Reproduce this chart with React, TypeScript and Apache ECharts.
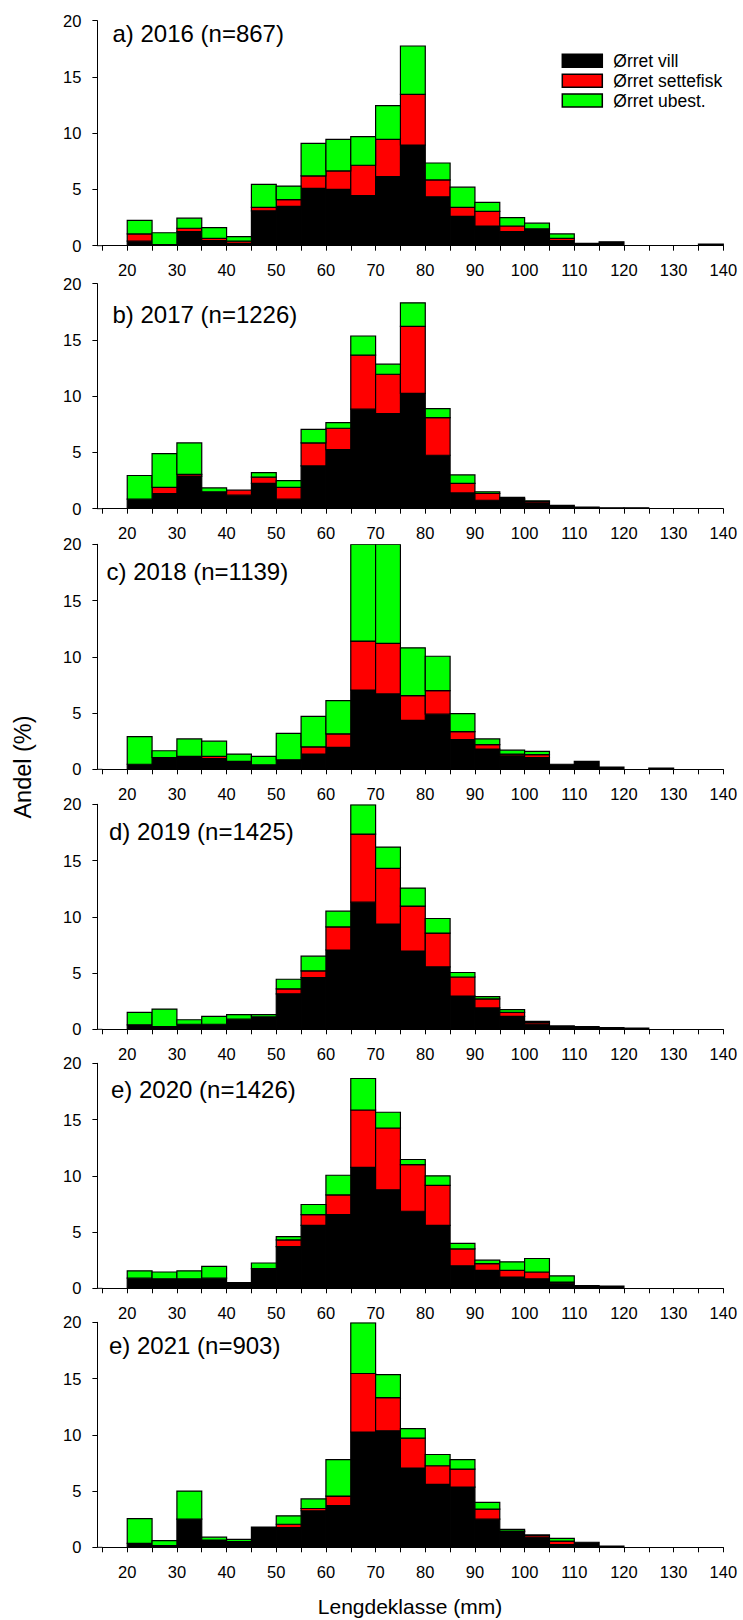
import React, { useEffect, useRef } from "react";
import * as echarts from "echarts";

// Length classes (lower bound, mm); every class is 5 mm wide
const binStarts = [20, 25, 30, 35, 40, 45, 50, 55, 60, 65, 70, 75, 80, 85, 90, 95, 100, 105, 110, 115, 120, 125, 130, 135];
const binWidth = 5;

const seriesNames = ["Ørret vill", "Ørret settefisk", "Ørret ubest."];
const seriesColors = ["#000000", "#ff0000", "#00ff00"];

const panelTitles = [
  "a) 2016 (n=867)",
  "b) 2017 (n=1226)",
  "c) 2018 (n=1139)",
  "d) 2019 (n=1425)",
  "e) 2020 (n=1426)",
  "e) 2021 (n=903)",
];

// Share (%) per length class
const vill2016 = [0.4, 0.1, 1.25, 0.45, 0.2, 3.1, 3.5, 5.1, 5.0, 4.45, 6.15, 8.95, 4.35, 2.6, 1.75, 1.25, 1.45, 0.45, 0.2, 0.35, 0, 0, 0, 0.15];
const sette2016 = [0.65, 0, 0.3, 0.2, 0.2, 0.3, 0.6, 1.1, 1.65, 2.7, 3.3, 4.5, 1.5, 0.8, 1.3, 0.5, 0.05, 0.2, 0, 0, 0, 0, 0, 0];
const ubest2016 = [1.2, 1.05, 0.9, 0.95, 0.4, 2.05, 1.2, 2.9, 2.8, 2.55, 3.0, 4.3, 1.5, 1.8, 0.8, 0.75, 0.5, 0.4, 0, 0, 0, 0, 0, 0];

const vill2017 = [0.85, 1.35, 2.9, 1.4, 1.2, 2.25, 0.85, 3.8, 5.25, 8.85, 8.45, 10.25, 4.75, 1.4, 0.75, 0.8, 0.45, 0.2, 0.15, 0.08, 0.08, 0, 0, 0];
const sette2017 = [0, 0.55, 0.15, 0.1, 0.45, 0.55, 1.05, 2.05, 1.9, 4.8, 3.5, 5.95, 3.35, 0.85, 0.6, 0.1, 0.15, 0.1, 0, 0, 0, 0, 0, 0];
const ubest2017 = [2.1, 3.0, 2.8, 0.35, 0, 0.4, 0.6, 1.2, 0.5, 1.7, 0.9, 2.1, 0.8, 0.75, 0.15, 0.1, 0.1, 0, 0, 0, 0, 0, 0, 0];

const vill2018 = [0.45, 1.05, 1.15, 0.95, 0.7, 0.4, 0.85, 1.35, 1.95, 7.05, 6.7, 4.35, 4.9, 2.65, 1.8, 1.2, 1.05, 0.45, 0.7, 0.2, 0, 0.1, 0, 0];
const sette2018 = [0, 0, 0, 0.2, 0, 0, 0, 0.65, 1.2, 4.35, 4.5, 2.2, 2.1, 0.7, 0.4, 0.15, 0.25, 0, 0, 0, 0, 0, 0, 0];
const ubest2018 = [2.45, 0.6, 1.55, 1.35, 0.65, 0.75, 2.35, 2.7, 2.95, 8.6, 8.8, 4.25, 3.05, 1.6, 0.5, 0.35, 0.3, 0, 0, 0, 0, 0, 0, 0];

const vill2019 = [0.4, 0.25, 0.45, 0.45, 0.9, 1.1, 3.15, 4.6, 7.05, 11.3, 9.35, 6.95, 5.55, 2.95, 1.9, 1.15, 0.45, 0.3, 0.25, 0.15, 0.1, 0, 0, 0];
const sette2019 = [0, 0, 0, 0, 0, 0, 0.45, 0.6, 2.05, 6.05, 4.95, 4.0, 3.0, 1.7, 0.8, 0.35, 0.15, 0, 0, 0, 0, 0, 0, 0];
const ubest2019 = [1.1, 1.55, 0.4, 0.7, 0.4, 0.2, 0.85, 1.3, 1.4, 2.6, 1.9, 1.6, 1.3, 0.4, 0.2, 0.25, 0.1, 0, 0, 0, 0, 0, 0, 0];

const vill2020 = [0.9, 0.85, 0.85, 0.9, 0.5, 1.75, 3.7, 5.6, 6.55, 10.75, 8.75, 6.85, 5.6, 2.0, 1.6, 1.0, 0.85, 0.45, 0.25, 0.2, 0, 0, 0, 0];
const sette2020 = [0, 0, 0, 0, 0, 0, 0.6, 0.95, 1.75, 5.1, 5.5, 4.15, 3.55, 1.5, 0.6, 0.6, 0.6, 0.1, 0, 0, 0, 0, 0, 0];
const ubest2020 = [0.65, 0.6, 0.7, 1.05, 0, 0.5, 0.3, 0.9, 1.75, 2.8, 1.4, 0.45, 0.85, 0.5, 0.3, 0.75, 1.2, 0.55, 0, 0, 0, 0, 0, 0];

const vill2021 = [0.35, 0.15, 2.5, 0.65, 0.5, 1.8, 1.75, 3.25, 3.7, 10.25, 10.35, 7.05, 5.6, 5.35, 2.5, 1.4, 0.9, 0.25, 0.45, 0.1, 0, 0, 0, 0];
const sette2021 = [0, 0, 0, 0, 0, 0, 0.3, 0.2, 0.85, 5.2, 2.95, 2.65, 1.65, 1.6, 0.9, 0.05, 0.15, 0.3, 0, 0, 0, 0, 0, 0];
const ubest2021 = [2.2, 0.45, 2.5, 0.25, 0.2, 0, 0.75, 0.85, 3.25, 4.5, 2.05, 0.85, 1.0, 0.85, 0.6, 0.15, 0.05, 0.25, 0, 0, 0, 0, 0, 0];

const panels = [
  [vill2016, sette2016, ubest2016],
  [vill2017, sette2017, ubest2017],
  [vill2018, sette2018, ubest2018],
  [vill2019, sette2019, ubest2019],
  [vill2020, sette2020, ubest2020],
  [vill2021, sette2021, ubest2021],
];

const xTickValues = { min: 15, max: 140, interval: 5 };
const yTickValues = { min: 0, max: 20, interval: 5 };

// Layout
const W = 743;
const H = 1620;
const FONT = "'Liberation Sans', Arial, sans-serif";
const gridLeft = 102.4;
const gridWidth = 620.9;
const gridHeight = 225;
const yAxisOffset = 5;
const gridTops = [20.7, 283.7, 544.3, 804.3, 1063.3, 1322.3];
const titleX = [112.5, 112.5, 106.5, 109, 111, 109];
const titleY = [33.3, 314.7, 571, 831, 1089, 1345];
const legendBoxX = 562.3;
const legendBoxY = [54.3, 74.2, 94];
const legendTextX = 613.3;

function textEl(text: string, x: number, y: number, size: number, align: string, extra: any = {}) {
  return {
    type: "text",
    x,
    y,
    ...extra,
    style: {
      text,
      fill: "#000",
      fontSize: size,
      fontFamily: FONT,
      align,
      verticalAlign: "middle",
      textAlign: align,
      textVerticalAlign: "middle",
    },
  };
}

function buildOption() {
  const grid: any[] = [];
  const xAxis: any[] = [];
  const yAxis: any[] = [];
  const series: any[] = [];
  const graphic: any[] = [];

  panels.forEach((groups, p) => {
    grid.push({ left: gridLeft, top: gridTops[p], width: gridWidth, height: gridHeight });
    xAxis.push({
      type: "value",
      gridIndex: p,
      ...xTickValues,
      axisLine: { show: true, onZero: false, lineStyle: { color: "#000", width: 1 } },
      axisTick: { show: true, inside: false, length: 5, lineStyle: { color: "#000", width: 1 } },
      axisLabel: {
        margin: 16,
        fontSize: 16.5,
        fontFamily: FONT,
        color: "#000",
        showMinLabel: true,
        showMaxLabel: true,
        formatter: (v: number) => (v % 10 === 0 ? String(v) : ""),
      },
      splitLine: { show: false },
    });
    yAxis.push({
      type: "value",
      gridIndex: p,
      ...yTickValues,
      offset: yAxisOffset,
      axisLine: { show: true, lineStyle: { color: "#000", width: 1 } },
      axisTick: { show: true, inside: false, length: 5, lineStyle: { color: "#000", width: 1 } },
      axisLabel: { margin: 16, fontSize: 16.5, fontFamily: FONT, color: "#000" },
      splitLine: { show: false },
    });

    // join the offset y axis to the baseline
    const baseY = gridTops[p] + gridHeight;
    graphic.push({
      type: "line",
      shape: { x1: gridLeft - yAxisOffset, y1: baseY, x2: gridLeft, y2: baseY },
      style: { stroke: "#000", lineWidth: 1 },
    });

    // Stack the three groups: each data item is [classStart, lower, upper]
    const cumulative = binStarts.map(() => 0);
    groups.forEach((vals, k) => {
      const data = binStarts.map((x0, i) => {
        const lo = cumulative[i];
        const hi = lo + vals[i];
        cumulative[i] = hi;
        return [x0, lo, hi];
      });
      series.push({
        type: "custom",
        name: seriesNames[k],
        xAxisIndex: p,
        yAxisIndex: p,
        clip: true,
        encode: { x: 0, y: [1, 2] },
        itemStyle: { color: seriesColors[k], borderColor: "#000", borderWidth: 1.2 },
        data,
        renderItem: (params: any, api: any) => {
          const x0 = api.value(0);
          const lo = api.value(1);
          const hi = api.value(2);
          if (!(hi - lo > 0)) return null;
          const a = api.coord([x0, hi]);
          const b = api.coord([x0 + binWidth, lo]);
          return {
            type: "rect",
            shape: { x: a[0], y: a[1], width: b[0] - a[0], height: b[1] - a[1] },
            style: { fill: seriesColors[k], stroke: "#000", lineWidth: 1.2 },
          };
        },
      });
    });
  });

  panelTitles.forEach((t, p) => graphic.push(textEl(t, titleX[p], titleY[p], 24, "left")));
  graphic.push(textEl("Andel (%)", 23, 767, 23.5, "center", { rotation: Math.PI / 2 }));
  graphic.push(textEl("Lengdeklasse (mm)", 410, 1606, 21, "center"));

  // Key for the three groups, placed inside panel a
  seriesNames.forEach((name, k) => {
    graphic.push({
      type: "rect",
      shape: { x: legendBoxX, y: legendBoxY[k], width: 40, height: 13 },
      style: { fill: seriesColors[k], stroke: "#000", lineWidth: 1.5 },
    });
    graphic.push(textEl(name, legendTextX, legendBoxY[k] + 6.5, 17.5, "left"));
  });

  return {
    animation: false,
    backgroundColor: "#ffffff",
    color: seriesColors,
    textStyle: { fontFamily: FONT },
    grid,
    xAxis,
    yAxis,
    series,
    graphic,
  };
}

export default function App() {
  const ref = useRef<HTMLDivElement>(null);
  useEffect(() => {
    if (!ref.current) return;
    const chart = echarts.init(ref.current, undefined, { renderer: "svg", width: W, height: H });
    chart.setOption(buildOption() as any);
    return () => {
      chart.dispose();
    };
  }, []);
  return (
    <div
      ref={ref}
      style={{ position: "absolute", left: 0, top: 0, width: W, height: H, background: "#fff" }}
    />
  );
}
